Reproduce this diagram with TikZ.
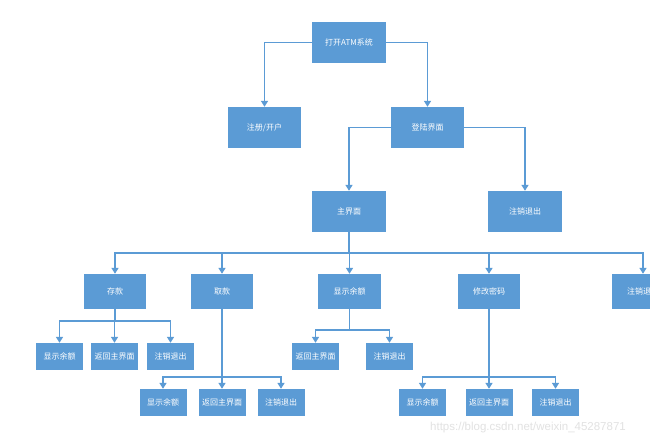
\documentclass[tikz,border=0pt]{standalone}
\usepackage{fontspec}
\newfontfamily\cjk{Noto Sans CJK SC}
\newfontfamily\wm{Liberation Sans}
\usetikzlibrary{arrows.meta}
\definecolor{boxblue}{HTML}{5B9BD5}
\definecolor{lineblue}{HTML}{5B9BD5}
\definecolor{wmgray}{HTML}{E2E2E2}
\tikzset{
  box/.style={draw=none, fill=boxblue, text=white, font=\cjk\fontsize{8}{9.5}\selectfont,
    inner sep=0pt, minimum width=74pt, minimum height=41pt},
  midbox/.style={box, minimum width=62pt, minimum height=35pt},
  smallbox/.style={box, minimum width=47pt, minimum height=27pt},
  link/.style={draw=lineblue, line width=1.5pt},
  arr/.style={link, -{Triangle[width=7pt,length=6pt]}},
}
\begin{document}
\begin{tikzpicture}[x=1pt,y=-1pt]
\clip (0,0) rectangle (650,444);
\fill[white] (0,0) rectangle (650,444);
% level 1-3
\node[box] (top) at (349,42.5) {打开ATM系统};
\node[box, minimum width=73pt] (reg) at (264.5,127.5) {注册/开户};
\node[box, minimum width=73pt] (login) at (427.5,127.5) {登陆界面};
\node[box] (main) at (349,211.5) {主界面};
\node[box] (out1) at (525,211.5) {注销退出};
% level 4
\node[midbox] (dep) at (115,291.5) {存款};
\node[midbox] (wd) at (222,291.5) {取款};
\node[midbox, minimum width=63pt] (bal) at (349.5,291.5) {显示余额};
\node[midbox] (pw) at (489,291.5) {修改密码};
\node[midbox] (out2) at (643,291.5) {注销退出};
% deposit children
\node[smallbox] (d1) at (59.5,356.5) {显示余额};
\node[smallbox] (d2) at (114.5,356.5) {返回主界面};
\node[smallbox] (d3) at (170.5,356.5) {注销退出};
% balance children
\node[smallbox] (b1) at (315.5,356.5) {返回主界面};
\node[smallbox] (b2) at (389.5,356.5) {注销退出};
% withdraw children
\node[smallbox] (w1) at (163,402.5) {显示余额};
\node[smallbox] (w2) at (222,402.5) {返回主界面};
\node[smallbox] (w3) at (281,402.5) {注销退出};
% password children
\node[smallbox] (p1) at (422.5,402.5) {显示余额};
\node[smallbox] (p2) at (489,402.5) {返回主界面};
\node[smallbox] (p3) at (555.5,402.5) {注销退出};
% bus coordinates
\coordinate (busM) at (349,253);
\coordinate (busD) at (115,321);
\coordinate (busB) at (349.5,330);
\coordinate (busW) at (222,377);
\coordinate (busP) at (489,377);
% connectors
\draw[arr] (top.west) -| (reg.north);
\draw[arr] (top.east) -| (login.north);
\draw[arr] (login.west) -| (main.north);
\draw[arr] (login.east) -| (out1.north);
\draw[link] (main.south) -- (busM);
\foreach \n in {dep,wd,bal,pw,out2} \draw[arr] (busM) -| (\n.north);
\draw[link] (dep.south) -- (busD);
\foreach \n in {d1,d2,d3} \draw[arr] (busD) -| (\n.north);
\draw[link] (bal.south) -- (busB);
\foreach \n in {b1,b2} \draw[arr] (busB) -| (\n.north);
\draw[link] (wd.south) -- (busW);
\foreach \n in {w1,w2,w3} \draw[arr] (busW) -| (\n.north);
\draw[link] (pw.south) -- (busP);
\foreach \n in {p1,p2,p3} \draw[arr] (busP) -| (\n.north);
% watermark
\node[text=wmgray, font=\wm\fontsize{11.5}{13}\selectfont, inner sep=0pt] (wmk) at (528,428) {https://blog.csdn.net/weixin\_45287871};
\end{tikzpicture}
\end{document}
